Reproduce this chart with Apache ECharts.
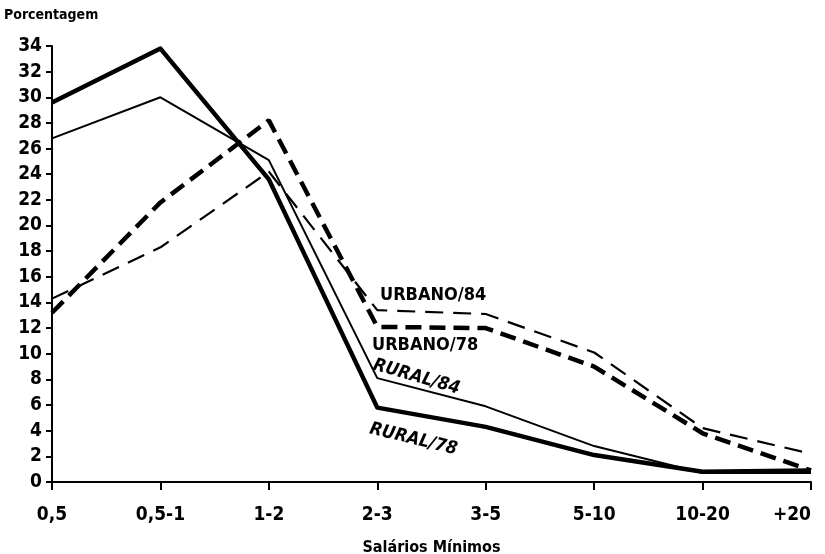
<!DOCTYPE html>
<html><head><meta charset="utf-8">
<script src="https://cdn.jsdelivr.net/npm/echarts@6/dist/echarts.min.js"></script>
<style>html,body{margin:0;padding:0;background:#fff}#c{width:825px;height:554px}</style>
</head><body><div id="c"></div>
<script>
const categories = ['0,5','0,5-1','1-2','2-3','3-5','5-10','10-20','+20'];
const rural78  = [29.6, 33.8, 23.6, 5.8, 4.3, 2.1, 0.8, 0.9];
const rural84  = [26.8, 30.0, 25.1, 8.1, 5.9, 2.8, 0.7, 0.7];
const urbano78 = [13.2, 21.8, 28.2, 12.1, 12.0, 9.0, 3.8, 0.9];
const urbano84 = [14.3, 18.3, 24.2, 13.4, 13.1, 10.1, 4.2, 2.2];
const yTicks = [0,2,4,6,8,10,12,14,16,18,20,22,24,26,28,30,32,34];

const FONT = '"DejaVu Sans Condensed", "DejaVu Sans", sans-serif';
const chart = echarts.init(document.getElementById('c'), null, {renderer:'canvas'});
chart.setOption({
  animation:false,
  backgroundColor:'#fff',
  grid:{left:52, right:14, top:46, bottom:72, containLabel:false, outerBoundsMode:'none'},
  xAxis:{
    type:'category', data:categories, boundaryGap:false,
    axisLine:{lineStyle:{color:'#000', width:2}},
    axisTick:{show:true, length:8, lineStyle:{color:'#000', width:2}, alignWithLabel:true},
    axisLabel:{color:'#000', fontFamily:FONT, fontWeight:'bold', fontSize:19, margin:24,
      alignMaxLabel:'right'},
    splitLine:{show:false},
    name:'Salários Mínimos', nameLocation:'middle', nameGap:58,
    nameTextStyle:{color:'#000', fontFamily:FONT, fontWeight:'bold', fontSize:16}
  },
  yAxis:{
    type:'value', min:0, max:34, interval:2,
    axisLine:{show:true, lineStyle:{color:'#000', width:2}},
    axisTick:{show:true, length:6, lineStyle:{color:'#000', width:2}},
    axisLabel:{color:'#000', fontFamily:FONT, fontWeight:'bold', fontSize:19, margin:10,
      formatter:v=> yTicks.includes(v) ? String(v) : ''},
    splitLine:{show:false},
    name:'Porcentagem', nameLocation:'end', nameGap:24,
    nameTextStyle:{color:'#000', fontFamily:FONT, fontWeight:'bold', fontSize:14, align:'left', padding:[0,0,0,-48]}
  },
  series:[
    {name:'RURAL/78', type:'line', data:rural78, symbol:'none',
     lineStyle:{color:'#000', width:4.5, type:'solid', join:'round'}},
    {name:'RURAL/84', type:'line', data:rural84, symbol:'none',
     lineStyle:{color:'#000', width:2, type:'solid'}},
    {name:'URBANO/78', type:'line', data:urbano78, symbol:'none',
     lineStyle:{color:'#000', width:4.5, type:[16,8]}},
    {name:'URBANO/84', type:'line', data:urbano84, symbol:'none',
     lineStyle:{color:'#000', width:2.2, type:[18,10]}}
  ],
  graphic:[
    {type:'text', left:380, top:286, style:{text:'URBANO/84', fill:'#000', font:'bold 18px '+FONT}},
    {type:'text', left:372, top:336, style:{text:'URBANO/78', fill:'#000', font:'bold 18px '+FONT}},
    {type:'text', x:376, y:356, rotation:-0.28, style:{text:'RURAL/84', fill:'#000', font:'italic bold 18px '+FONT}},
    {type:'text', x:372, y:420, rotation:-0.24, style:{text:'RURAL/78', fill:'#000', font:'italic bold 18px '+FONT}}
  ]
});
</script></body></html>
